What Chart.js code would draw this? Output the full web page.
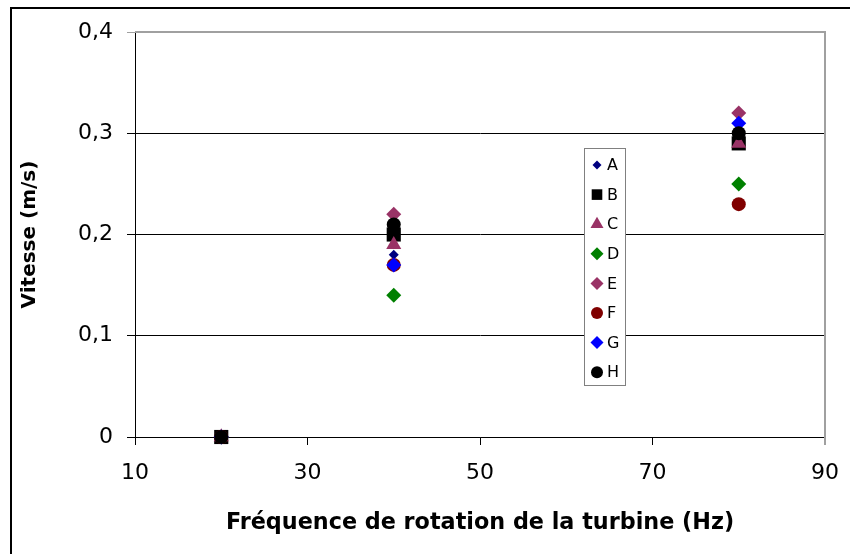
<!DOCTYPE html>
<html>
<head>
<meta charset="utf-8">
<script src="https://cdn.jsdelivr.net/npm/chart.js@4.4.0/dist/chart.umd.min.js"></script>
<style>
    html, body { margin: 0; padding: 0; background: #fff; overflow: hidden; }
    #wrap { position: relative; width: 850px; height: 554px; }
    #frame { position: absolute; left: 10px; top: 7px; width: 900px; height: 600px;
             border-left: 2px solid #000; border-top: 2px solid #000; }
    canvas { position: absolute; left: 0; top: 0; }
</style>
</head>
<body>
<div id="wrap">
    <div id="frame"></div>
    <canvas id="speedChart" width="850" height="554"></canvas>
</div>
<script>
// frequencies (Hz)
const frequencies = [20, 40, 80];

// series names
const seriesNames = ['A', 'B', 'C', 'D', 'E', 'F', 'G', 'H'];

// speeds (m/s) for each series
const serieA = [0, 0.18, 0.29];
const serieB = [0, 0.20, 0.29];
const serieC = [0, 0.19, 0.29];
const serieD = [0, 0.14, 0.25];
const serieE = [0, 0.22, 0.32];
const serieF = [0, 0.17, 0.23];
const serieG = [0, 0.17, 0.31];
const serieH = [0, 0.21, 0.30];

const xTicks = [10, 30, 50, 70, 90];
const yTicks = [0, 0.1, 0.2, 0.3, 0.4];

document.addEventListener('DOMContentLoaded', () => {
    const allValues = [serieA, serieB, serieC, serieD, serieE, serieF, serieG, serieH];
    const styles = [
        { color: '#000080', shape: 'rectRot', radius: 5, legend: 4.5 },
        { color: '#000000', shape: 'rect', radius: 10, legend: 7.5 },
        { color: '#993366', shape: 'triangle', radius: 8.7, legend: 7.5 },
        { color: '#008000', shape: 'rectRot', radius: 7.5, legend: 6.5 },
        { color: '#993366', shape: 'rectRot', radius: 7.5, legend: 6.5 },
        { color: '#800000', shape: 'circle', radius: 7, legend: 6 },
        { color: '#0000FF', shape: 'rectRot', radius: 7.5, legend: 6.5 },
        { color: '#000000', shape: 'circle', radius: 7, legend: 6 }
    ];

    const datasets = seriesNames.map((name, i) => ({
        label: name,
        data: frequencies.map((f, j) => ({ x: f, y: allValues[i][j] })),
        backgroundColor: styles[i].color,
        borderColor: styles[i].color,
        borderWidth: 0,
        pointStyle: styles[i].shape,
        pointRadius: styles[i].radius,
        pointHoverRadius: styles[i].radius,
        order: seriesNames.length - i,
        clip: false
    }));

    const fmt = (v) => String(Math.round(v * 10) / 10).replace('.', ',');
    const fontFamily = '"DejaVu Sans", Verdana, sans-serif';

    // grey frame on top and right of the plot area, and the boxed legend
    const framePlugin = {
        id: 'plotFrame',
        afterDraw: (chart) => {
            const { ctx, chartArea } = chart;
            ctx.save();
            ctx.strokeStyle = '#a0a0a0';
            ctx.lineWidth = 2;
            ctx.beginPath();
            ctx.moveTo(chartArea.left, chartArea.top);
            ctx.lineTo(chartArea.right, chartArea.top);
            ctx.lineTo(chartArea.right, chartArea.bottom + 8);
            ctx.stroke();

            // legend
            const lx = 584, ly = 148, lw = 41, lh = 237;
            ctx.fillStyle = '#fff';
            ctx.fillRect(lx, ly, lw, lh);
            ctx.strokeStyle = '#808080';
            ctx.lineWidth = 1;
            ctx.strokeRect(lx + 0.5, ly + 0.5, lw, lh);
            ctx.font = '16px ' + fontFamily;
            ctx.textBaseline = 'middle';
            ctx.textAlign = 'left';
            chart.data.datasets.forEach((ds, i) => {
                const y = ly + 17 + i * 29.6;
                ctx.fillStyle = ds.backgroundColor;
                ctx.strokeStyle = ds.borderColor;
                Chart.helpers.drawPoint(ctx, {
                    pointStyle: ds.pointStyle,
                    radius: styles[i].legend,
                    rotation: 0,
                    borderWidth: 0
                }, lx + 13, y);
                ctx.fillStyle = '#000';
                ctx.fillText(ds.label, lx + 23, y + 1);
            });
            ctx.restore();
        }
    };

    new Chart(document.getElementById('speedChart'), {
        type: 'scatter',
        data: { datasets: datasets },
        options: {
            responsive: false,
            animation: false,
            layout: { padding: { left: 0, top: 32, right: 25, bottom: 0 } },
            plugins: {
                legend: { display: false },
                tooltip: { enabled: false }
            },
            scales: {
                x: {
                    type: 'linear',
                    min: 10,
                    max: 90,
                    afterFit: (scale) => {
                        scale.height = 117;
                        scale.paddingLeft = 0;
                        scale.paddingRight = 0;
                    },
                    afterBuildTicks: (scale) => { scale.ticks = xTicks.map(v => ({ value: v })); },
                    border: { color: '#000', width: 1 },
                    grid: { drawOnChartArea: false, drawTicks: true, tickLength: 8, color: '#000' },
                    ticks: {
                        padding: 15,
                        maxRotation: 0,
                        color: '#000',
                        font: { family: fontFamily, size: 22 }
                    },
                    title: {
                        display: true,
                        text: 'Fréquence de rotation de la turbine (Hz)',
                        color: '#000',
                        padding: { top: 0, bottom: 17 },
                        font: { family: fontFamily, size: 22.3, weight: 'bold' }
                    }
                },
                y: {
                    type: 'linear',
                    min: 0,
                    max: 0.4,
                    afterFit: (scale) => { scale.width = 135; },
                    afterBuildTicks: (scale) => { scale.ticks = yTicks.map(v => ({ value: v })); },
                    border: { color: '#000', width: 1 },
                    grid: {
                        drawTicks: true,
                        tickLength: 8,
                        color: (c) => (c.tick && c.tick.value >= 0.4 ? '#a0a0a0' : '#000')
                    },
                    ticks: {
                        padding: 14,
                        color: '#000',
                        callback: (v) => fmt(v),
                        font: { family: fontFamily, size: 22 }
                    },
                    title: {
                        display: true,
                        text: 'Vitesse (m/s)',
                        color: '#000',
                        padding: { top: 18, bottom: 0 },
                        font: { family: fontFamily, size: 20, weight: 'bold' }
                    }
                }
            }
        },
        plugins: [framePlugin]
    });
});
</script>
</body>
</html>
